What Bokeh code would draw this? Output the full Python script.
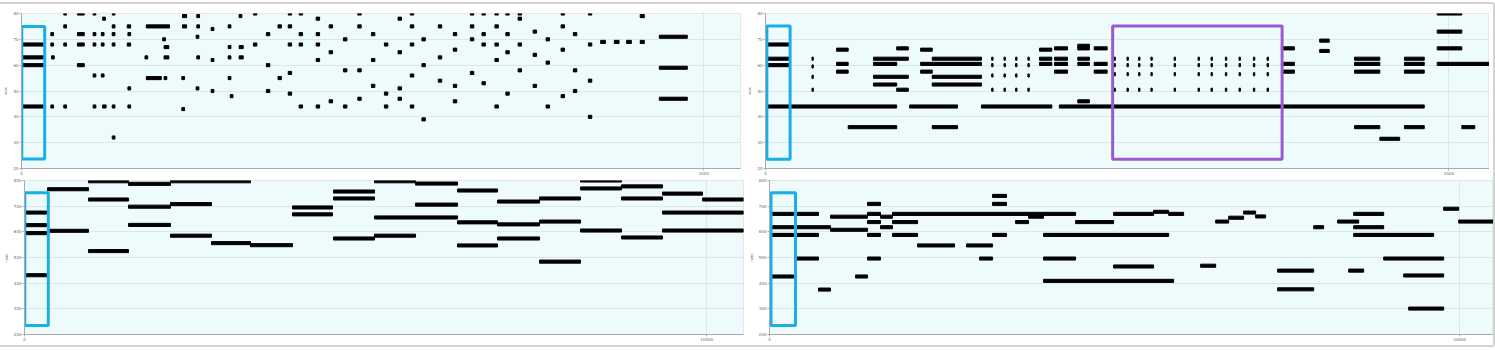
from bokeh.plotting import figure
from bokeh.layouts import row, column
from bokeh.models import FixedTicker, Range1d
from bokeh.embed import file_html
from bokeh.resources import INLINE

# ---------------- data ----------------
# top-left panel: note onset, note end (frames) and pitch
tl_start = [0, 0, 0, 0, 43, 43, 43, 44, 62, 62, 62, 62, 82, 82, 82, 82,
            105, 105, 105, 105, 105, 117, 117, 117, 119, 119, 133, 133, 133, 133, 133, 133,
            155, 155, 156, 156, 156, 183, 183, 207, 209, 209, 209, 181, 235, 235, 236, 236,
            257, 257, 256, 256, 257, 278, 278, 278, 319, 303, 303, 303, 303, 319, 319, 306,
            340, 340, 359, 359, 359, 376, 376, 391, 391, 391, 391, 391,
            407, 407, 407, 407, 432, 432, 432, 432, 432, 451, 451, 451,
            472, 472, 472, 493, 493, 493, 493, 513, 513, 513, 532, 532, 532,
            552, 552, 552, 552, 570, 570, 570, 570, 570, 587, 587, 587,
            611, 611, 611, 633, 633, 633, 633, 658, 658, 658, 658,
            675, 675, 675, 675, 694, 694, 694, 694, 694, 710, 710, 710, 710,
            728, 728, 728, 728, 750, 750, 750, 769, 769, 769,
            791, 791, 791, 791, 809, 809, 809, 831, 831, 831, 831,
            849, 869, 887, 907, 907, 935, 935, 935]
tl_end = [32, 32, 32, 32, 47, 47, 47, 48, 66, 66, 66, 66, 92, 92, 92, 92,
          109, 109, 109, 109, 109, 121, 121, 121, 124, 123, 137, 137, 137, 137, 137, 137,
          160, 160, 160, 160, 160, 217, 205, 211, 216, 216, 213, 185, 239, 239, 242, 242,
          261, 261, 260, 260, 261, 282, 282, 282, 323, 307, 307, 307, 307, 325, 325, 310,
          345, 345, 364, 364, 364, 381, 381, 396, 396, 396, 396, 396,
          412, 412, 412, 412, 437, 437, 437, 437, 437, 456, 456, 456,
          477, 477, 477, 498, 498, 498, 498, 518, 518, 518, 537, 537, 537,
          557, 557, 557, 557, 575, 575, 575, 575, 575, 592, 592, 592,
          616, 616, 616, 638, 638, 638, 638, 663, 663, 663, 663,
          680, 680, 680, 680, 699, 699, 699, 699, 699, 715, 715, 715, 715,
          733, 733, 733, 733, 755, 755, 755, 774, 774, 774,
          796, 796, 796, 796, 814, 814, 814, 836, 836, 836, 836,
          856, 876, 894, 913, 913, 976, 976, 976]
tl_pitch = [68, 63, 60, 44, 72, 68, 44, 63, 80, 75, 68, 44, 80, 72, 68, 60,
            80, 72, 68, 56, 44, 72, 68, 56, 44, 78, 80, 75, 72, 68, 44, 32,
            75, 68, 72, 51, 44, 75, 55, 70, 67, 63, 55, 63, 43, 55, 79, 75,
            79, 75, 71, 51, 63, 74, 62, 50, 79, 75, 67, 63, 55, 67, 63, 48,
            80, 68, 72, 60, 50, 75, 55, 80, 75, 68, 57, 49,
            80, 72, 68, 44, 78, 72, 68, 62, 44, 75, 65, 46,
            70, 58, 44, 80, 75, 58, 47, 72, 62, 52, 68, 49, 44,
            78, 65, 51, 47, 80, 75, 68, 56, 44, 70, 60, 39,
            75, 63, 54, 72, 66, 52, 46, 80, 75, 70, 57,
            80, 72, 68, 53, 80, 75, 68, 62, 44, 80, 72, 65, 49,
            80, 78, 68, 58, 73, 64, 52, 70, 61, 44,
            80, 75, 66, 48, 72, 58, 50, 80, 68, 54, 40,
            69, 69, 69, 79, 69, 71, 59, 47]

# top-right panel
tr_start = [0, 0, 0, 0, 35, 211, 316, 430, 68, 68, 68, 68, 104, 104, 104, 121,
            158, 158, 158, 158, 192, 192, 227, 227, 227, 244, 244, 244, 244,
            331, 331, 331, 331, 349, 349, 349, 349, 366, 366, 366, 366, 384, 384, 384, 384,
            401, 401, 401, 423, 423, 423, 423, 457, 457, 457, 457, 457, 481, 481, 481,
            510, 510, 510, 510, 529, 529, 529, 529, 546, 546, 546, 546, 564, 564, 564, 564,
            598, 598, 598, 598, 633, 633, 633, 633, 652, 652, 652, 652, 673, 673, 673, 673,
            693, 693, 693, 693, 714, 714, 714, 714, 734, 734, 734, 734,
            755, 755, 755, 811, 811, 862, 862, 862, 862, 899, 935, 935, 935, 935,
            983, 983, 983, 983, 1019]
tr_end = [35, 35, 35, 35, 192, 281, 419, 964, 70, 70, 70, 70, 121, 121, 121, 192,
          209, 192, 209, 192, 209, 209, 244, 244, 316, 316, 316, 316, 281,
          333, 333, 333, 333, 351, 351, 351, 351, 368, 368, 368, 368, 386, 386, 386, 386,
          419, 419, 419, 442, 442, 442, 442, 474, 474, 474, 474, 474, 500, 500, 500,
          512, 512, 512, 512, 531, 531, 531, 531, 548, 548, 548, 548, 566, 566, 566, 566,
          600, 600, 600, 600, 635, 635, 635, 635, 654, 654, 654, 654, 675, 675, 675, 675,
          695, 695, 695, 695, 716, 716, 716, 716, 736, 736, 736, 736,
          774, 774, 774, 825, 825, 899, 899, 899, 899, 928, 964, 964, 964, 964,
          1019, 1019, 1019, 1060, 1038]
tr_pitch = [68, 62.5, 60, 44, 44, 44, 44, 44, 62.5, 59.5, 55.5, 50.5, 66, 60.5, 57.5, 36,
            62.5, 60.5, 55.5, 52.5, 66.5, 50.5, 66, 57.5, 60.5, 62.5, 55.5, 52.5, 36,
            62.5, 60, 56, 50.5, 62.5, 60, 56, 50.5, 62.5, 60, 56, 50.5, 62.5, 60, 56, 50.5,
            66, 62.5, 60.5, 66.5, 62.5, 60.5, 57.5, 67.5, 66.5, 62.5, 60.5, 46, 66.5, 60.5, 57.5,
            62.5, 60, 56.5, 50.5, 62.5, 60, 56.5, 50.5, 62.5, 60, 56.5, 50.5, 62.5, 60, 56.5, 50.5,
            62.5, 60, 56.5, 50.5, 62.5, 60, 56.5, 50.5, 62.5, 60, 56.5, 50.5, 62.5, 60, 56.5, 50.5,
            62.5, 60, 56.5, 50.5, 62.5, 60, 56.5, 50.5, 62.5, 60, 56.5, 50.5,
            66.5, 60.5, 57.5, 69.5, 65.5, 62.5, 60.5, 57.5, 36, 31.5, 62.5, 60.5, 57.5, 36,
            80, 73, 66.5, 60.5, 36]

# bottom-left panel
bl_start = [0, 0, 0, 0, 337, 367, 938, 938, 938, 1525, 1525, 1525, 2140, 2140, 2140,
            2741, 3313, 3929, 3929, 4530, 4530, 4530, 5131, 5131, 5131, 5732, 5732,
            6348, 6348, 6348, 6934, 6934, 6934, 7550, 7550, 7550, 8151, 8151, 8151,
            8752, 8752, 8752, 9353, 9353, 9353, 9940]
bl_end = [323, 323, 323, 323, 938, 938, 1525, 1525, 1525, 2140, 2140, 2140, 3313, 2741, 2741,
          3313, 3929, 4515, 4515, 5131, 5131, 5131, 5732, 5732, 6348, 6348, 6348,
          6934, 6934, 6934, 7550, 7550, 7550, 8151, 8151, 8151, 8752, 8752, 8752,
          9353, 9353, 9353, 9940, 10540, 10540, 10540]
bl_pitch = [675, 626, 595, 431, 766, 604, 797, 726, 525, 787, 698, 627, 797, 708, 585,
            556, 548, 695, 668, 757, 730, 574, 797, 585, 656, 788, 706,
            761, 637, 547, 718, 629, 574, 730, 640, 484, 800, 769, 605,
            777, 730, 578, 749, 675, 605, 726]

# bottom-right panel
br_start = [0, 0, 0, 0, 391, 391, 391, 391, 710, 710, 884, 884, 1246,
            1420, 1420, 1420, 1420, 1420, 1608, 1608, 1782, 1782, 1782, 2145, 2855, 3043,
            3231, 3231, 3231, 3565, 3753, 3970, 3970, 3970, 4434, 4985, 4985, 5564, 5564,
            5782, 6245, 6463, 6651, 6868, 7042, 7361, 7361, 7883, 8230, 8462, 8462, 8462,
            8390, 8897, 9187, 9259, 9766, 9984]
br_end = [348, 348, 348, 348, 710, 710, 710, 710, 884, 884, 1420, 1420, 1420,
          1608, 1608, 1608, 1608, 1608, 1782, 1782, 4434, 2145, 2145, 2681, 3231, 3231,
          3434, 3434, 3434, 3753, 3970, 5564, 5854, 4434, 4985, 5564, 5564, 5782, 5782,
          5999, 6463, 6651, 6868, 7042, 7187, 7883, 7883, 8027, 8535, 8897, 8897, 9621,
          8607, 9766, 9766, 9766, 9984, 10488]
br_pitch = [670, 618, 588, 426, 670, 618, 588, 496, 618, 375, 659, 608, 426,
            709, 670, 638, 588, 496, 659, 618, 670, 638, 588, 547, 547, 496,
            740, 709, 588, 638, 659, 588, 409, 496, 638, 670, 465, 678, 588,
            670, 468, 640, 655, 675, 660, 449, 376, 618, 640, 670, 618, 588,
            449, 496, 430, 301, 690, 640]

top_yticks = [20, 30, 40, 50, 60, 70, 80]
bottom_yticks = [200, 300, 400, 500, 600, 700, 800]

BG = "#eefbfd"
GRID = "#dde6e8"
BLUE = "#1aaee6"
PURPLE = "#9a5bd0"


def make_fig(xmax, ylo, yhi, yticks, xticks, fw, fh, bl, br_, bt, bb, ylabel):
    p = figure(frame_width=fw, frame_height=fh, x_range=Range1d(0, xmax),
               y_range=Range1d(ylo, yhi), output_backend="svg", toolbar_location=None,
               min_border_left=bl, min_border_right=br_, min_border_top=bt,
               min_border_bottom=bb, background_fill_color=BG,
               border_fill_color="white", outline_line_color="#e6e6e6")
    p.xaxis.ticker = FixedTicker(ticks=xticks)
    p.yaxis.ticker = FixedTicker(ticks=yticks)
    for ax in (p.xaxis[0], p.yaxis[0]):
        ax.major_label_text_font_size = "4px"
        ax.major_label_text_color = "#666666"
        ax.major_tick_out = 2
        ax.major_tick_in = 0
        ax.minor_tick_out = 0
        ax.minor_tick_in = 0
        ax.major_label_standoff = 1
        ax.axis_line_color = "#aaaaaa"
        ax.major_tick_line_color = "#aaaaaa"
        ax.major_label_text_font = "DejaVu Sans"
    p.yaxis.axis_label = ylabel
    p.yaxis.axis_label_text_font_size = "4px"
    p.yaxis.axis_label_text_font_style = "normal"
    p.yaxis.axis_label_text_color = "#666666"
    p.yaxis.axis_label_standoff = 2
    p.xgrid.grid_line_color = GRID
    p.ygrid.grid_line_color = GRID
    return p


tl = make_fig(1054, 20, 80, top_yticks, [0, 1000], 719, 155, 17, 2, 9, 8, "note")
tr = make_fig(1059.5, 20, 80, top_yticks, [0, 1000], 724, 155, 23, 0, 9, 8, "note")
bl = make_fig(10540, 200, 800, bottom_yticks, [0, 10000], 719, 154, 17, 2, 3, 11, "note")
br = make_fig(10488, 200, 800, bottom_yticks, [0, 10000], 724, 154, 23, 0, 3, 11, "note")

tl.hbar(y=tl_pitch, left=tl_start, right=tl_end, height=1.2, color="black")
tr.hbar(y=tr_pitch, left=tr_start, right=tr_end, height=1.2, color="black")
bl.hbar(y=bl_pitch, left=bl_start, right=bl_end, height=12, color="black")
br.hbar(y=br_pitch, left=br_start, right=br_end, height=12, color="black")

# highlight boxes
for fig, (x0, x1, y0, y1) in ((tl, (0.4, 34, 23.7, 75)), (tr, (2, 36, 23.6, 75.2)),
                              (bl, (4, 349, 235, 752)), (br, (22, 377, 235, 752))):
    fig.quad(left=x0, right=x1, bottom=y0, top=y1, fill_alpha=0,
             line_color=BLUE, line_width=3)
tr.quad(left=508, right=756, bottom=23.6, top=75.2, fill_alpha=0,
        line_color=PURPLE, line_width=3)

root = column(row(tl, tr), row(bl, br),
              styles={"border": "2px solid #d2d2d2", "border-radius": "3px",
                      "position": "relative", "left": "-2px", "top": "2px"})

open("out.html", "w").write(file_html(root, INLINE))
